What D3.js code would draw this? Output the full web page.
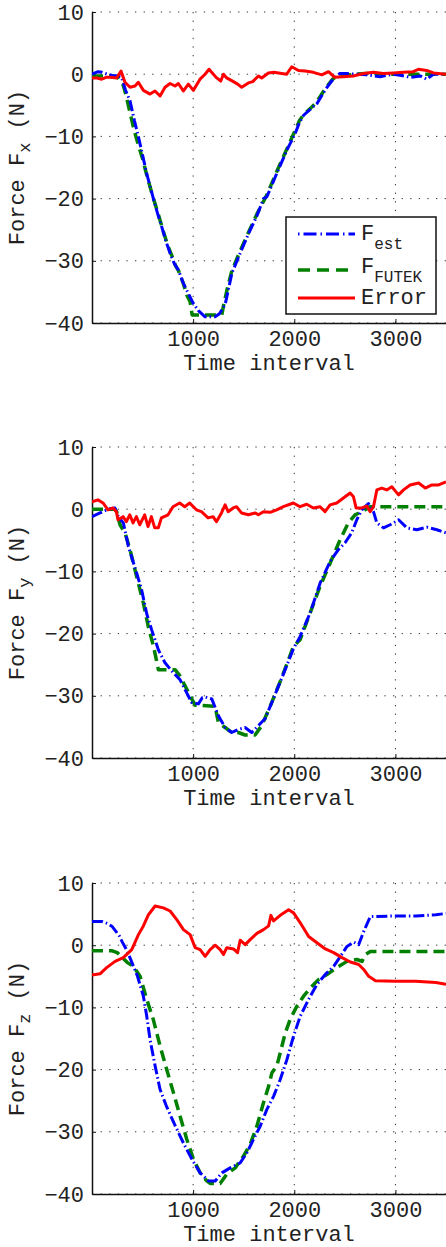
<!DOCTYPE html>
<html><head><meta charset="utf-8">
<script src="https://cdn.jsdelivr.net/npm/d3@7"></script>
<style>
html,body{margin:0;padding:0;background:#fff;}
svg{display:block;}
text{font-family:"Liberation Mono","Courier New",monospace;fill:#222;}
</style></head>
<body>
<svg id="c" width="446" height="1247"></svg>
<script>
// ---------- data ----------
const xTicks = [1000, 2000, 3000];
const yTicks = [10, 0, -10, -20, -30, -40];
const xDomain = [0, 3500];
const yDomain = [-40, 10];
const panelLabels = ["x", "y", "z"];
const legendLabels = [["F", "est"], ["F", "FUTEK"], ["Error", ""]];

// Panel 1 : Fx  ([time, force])
const fxEst = [[0,0],[60,0.4],[100,0.3],[150,0],[200,-0.2],[260,-0.3],[294,-0.5],[330,-2.5],[376,-4.3],[420,-7.5],[458,-10],[500,-13],[541,-16],[607,-20],[650,-22.5],[689,-24.5],[730,-26.8],[772,-28.8],[815,-30.5],[855,-31.5],[900,-33.5],[954,-35.3],[1000,-36.8],[1052,-38],[1118,-39],[1217,-39],[1260,-38.5],[1317,-37],[1350,-34.5],[1383,-32],[1449,-29.4],[1548,-25.6],[1630,-22.8],[1696,-20],[1729,-19.7],[1828,-15.9],[1927,-12.2],[2010,-9.5],[2050,-7.8],[2092,-6.6],[2160,-5.6],[2225,-4.7],[2307,-2.5],[2360,-1.3],[2406,-0.4],[2450,0.1],[2518,0.1],[2600,0],[2716,-0.1],[2848,-0.4],[2980,0],[3060,-0.2],[3145,-0.5],[3250,-0.3],[3310,-0.8],[3376,0],[3500,0]];
const fxFutek = [[0,-0.3],[100,-0.3],[200,-0.3],[250,-0.4],[305,-1.6],[320,-2.4],[345,-4],[380,-6.5],[420,-9.2],[460,-11.5],[500,-13.6],[541,-16.2],[600,-19.6],[650,-22.2],[700,-25],[750,-27.6],[800,-29.6],[827,-30.8],[855,-31.6],[900,-33.5],[937,-35.5],[970,-36.6],[990,-38.7],[1150,-38.7],[1284,-38.7],[1300,-37.2],[1340,-34.3],[1383,-31.6],[1449,-29],[1548,-25.4],[1630,-22.5],[1729,-19.4],[1828,-15.6],[1927,-12],[2010,-9],[2050,-7.5],[2092,-6.5],[2160,-5.5],[2225,-4.4],[2307,-2.3],[2380,-0.8],[2420,-0.3],[2500,-0.2],[2600,0],[2700,0.1],[2800,0.1],[2900,0],[3000,0],[3100,0],[3200,0],[3350,0],[3500,0]];
const fxError = [[0,-0.6],[50,-0.6],[96,-0.8],[140,-0.5],[178,-0.5],[244,-0.6],[287,0.5],[326,-1.3],[376,-2.1],[425,-1.9],[458,-1.3],[508,-2.6],[574,-3.2],[623,-2.7],[673,-3.5],[722,-2.1],[772,-1.5],[821,-1.9],[854,-1.5],[903,-2.7],[953,-1.6],[1002,-2.6],[1068,-0.8],[1118,0],[1157,0.8],[1200,0],[1233,-0.6],[1273,-1.1],[1300,0],[1332,-0.6],[1398,-1.2],[1440,-1.6],[1480,-2.1],[1546,-1.4],[1590,-1.2],[1645,-0.3],[1678,-0.6],[1744,0.2],[1800,0.3],[1843,0.2],[1925,0],[1975,1.2],[2041,0.6],[2107,0.5],[2189,0.3],[2272,-0.1],[2338,0.4],[2400,-0.5],[2485,-0.4],[2584,-0.3],[2683,0.1],[2782,0.3],[2881,0.1],[2980,0.2],[3079,0.3],[3178,0.4],[3227,0.8],[3310,0.6],[3376,0.2],[3500,0]];

// Panel 2 : Fy
const fyEst = [[0,-1.2],[79,-0.6],[161,0],[227,0.2],[260,-1.2],[310,-2.2],[360,-6],[442,-10.3],[491,-13],[541,-16.8],[590,-19.4],[656,-22.6],[722,-24.7],[804,-26.3],[870,-27.4],[920,-29],[986,-31.1],[1052,-31.3],[1090,-30.3],[1118,-30.2],[1184,-30.5],[1250,-33.2],[1316,-35.1],[1381,-35.9],[1447,-35.4],[1513,-35.1],[1579,-35.9],[1645,-34.8],[1711,-33.7],[1780,-31],[1880,-27],[1990,-22.5],[2057,-20.5],[2156,-16.7],[2255,-11.9],[2354,-8.4],[2436,-6.5],[2502,-5.4],[2568,-3.8],[2618,-1.7],[2667,-0.1],[2733,0.9],[2783,-0.4],[2816,-2.2],[2882,-3.0],[2948,-2.5],[3031,-1.7],[3113,-3],[3212,-3.3],[3311,-2.9],[3410,-3.3],[3500,-3.8]];
const fyFutek = [[0,0],[100,0],[227,0],[244,-0.4],[277,-2.5],[326,-3.8],[376,-6.5],[409,-8.7],[458,-11.9],[508,-15.1],[557,-18.9],[607,-22],[640,-24.5],[656,-25.8],[821,-25.8],[870,-26.8],[920,-28.4],[986,-30.5],[1019,-31.5],[1217,-31.7],[1250,-34.3],[1316,-35.1],[1381,-35.9],[1447,-35.9],[1513,-36.3],[1612,-36.3],[1678,-34.8],[1779,-31],[1878,-27],[1993,-22],[2057,-21],[2156,-16.7],[2255,-12.4],[2354,-8.7],[2453,-4.9],[2535,-2.2],[2601,-0.9],[2667,-0.4],[2750,0.4],[3000,0.4],[3250,0.4],[3500,0.4]];
const fyError = [[0,1.2],[59,1.5],[109,1.0],[158,-0.1],[208,0.2],[241,-0.4],[257,-1.7],[307,-1.2],[340,-2],[373,-0.9],[406,-2.2],[439,-1.2],[472,-2.5],[521,-0.9],[554,-2.8],[587,-1.2],[620,-3],[656,-3],[686,-1.4],[752,-0.9],[801,0.4],[867,1.0],[917,0.4],[966,1.0],[1032,-0.1],[1082,-0.4],[1148,-1.4],[1197,-1.2],[1230,-2],[1280,-0.6],[1316,0.7],[1346,-0.4],[1396,0.2],[1429,0.4],[1478,-0.6],[1546,-0.9],[1612,-0.6],[1645,-0.9],[1695,-0.4],[1761,-0.5],[1826,-0.1],[1892,0.4],[1991,1.0],[2057,0.4],[2123,0.8],[2189,0.2],[2255,0.4],[2304,-0.4],[2354,0.7],[2420,1.0],[2486,1.8],[2552,2.6],[2585,2.0],[2611,0.2],[2667,0.2],[2717,0.5],[2750,-0.4],[2783,0.4],[2816,3.1],[2865,3.4],[2915,3.1],[2964,3.6],[3031,2.3],[3080,3.1],[3146,3.9],[3229,4.2],[3295,3.4],[3361,3.9],[3427,3.9],[3500,4.4]];

// Panel 3 : Fz
const fzEst = [[0,3.8],[100,3.8],[150,3.5],[200,3],[270,1.5],[300,0.5],[350,-1],[400,-3],[450,-5],[508,-8.2],[541,-11.4],[574,-15.2],[624,-19.4],[673,-23.2],[739,-26],[822,-29],[904,-31.8],[987,-34.4],[1069,-36.6],[1152,-37.9],[1218,-37.9],[1284,-36.6],[1366,-35.8],[1465,-35],[1531,-33.4],[1597,-31.2],[1663,-29.1],[1729,-26.4],[1795,-24.3],[1861,-21.6],[1927,-18.4],[1993,-14.6],[2059,-11.4],[2142,-8.7],[2224,-6.3],[2307,-4.7],[2389,-3.4],[2455,-1.8],[2521,-0.2],[2587,0.5],[2637,0.1],[2686,2.2],[2752,4.6],[3000,4.7],[3200,4.7],[3400,4.9],[3500,5.1]];
const fzFutek = [[0,-0.9],[100,-0.9],[200,-0.9],[250,-1.2],[300,-2],[350,-2.8],[409,-3.4],[475,-5],[541,-8.7],[607,-12],[673,-16.2],[739,-20],[805,-23.7],[871,-27.5],[937,-31.2],[1003,-34.4],[1069,-36.6],[1135,-37.9],[1168,-38.3],[1267,-38.3],[1333,-36.8],[1416,-35.8],[1498,-33.9],[1564,-32],[1630,-29.1],[1696,-25.3],[1746,-22.7],[1779,-20.5],[1828,-19.4],[1861,-17.3],[1911,-14.1],[1960,-11.9],[2026,-9.8],[2092,-8.2],[2158,-6.9],[2241,-5.5],[2323,-4.7],[2422,-3.6],[2521,-2.6],[2620,-2.3],[2670,-2.6],[2703,-1.5],[2752,-1.0],[3000,-1.0],[3250,-1.0],[3500,-1.0]];
const fzError = [[0,-4.8],[79,-4.6],[145,-3.6],[228,-2.6],[310,-2],[393,-0.7],[459,1.7],[508,3.1],[558,4.9],[624,6.3],[706,6],[772,5.5],[838,4.1],[904,2.5],[970,1.7],[1020,-0.4],[1069,-0.7],[1119,-1.8],[1168,-0.7],[1218,0],[1267,-0.7],[1300,-1.5],[1333,-0.4],[1399,-0.6],[1439,-1.2],[1465,0.8],[1515,0.1],[1564,0.9],[1630,1.9],[1696,2.5],[1746,3.1],[1769,4.8],[1795,3.9],[1861,4.8],[1944,5.7],[1993,5.2],[2059,3.6],[2142,1.4],[2224,0.4],[2307,-0.6],[2389,-1.2],[2472,-2],[2554,-2.7],[2637,-3.1],[2686,-3.9],[2736,-5],[2802,-5.7],[3000,-5.8],[3200,-5.8],[3400,-6],[3500,-6.3]];

const panels = [
  {sub: panelLabels[0], est: fxEst, futek: fxFutek, err: fxError, legend: true},
  {sub: panelLabels[1], est: fyEst, futek: fyFutek, err: fyError, legend: false},
  {sub: panelLabels[2], est: fzEst, futek: fzFutek, err: fzError, legend: false}
];

// ---------- layout ----------
const tops = [12, 447, 883];
const plotH = 311;
const left = 92, right = 446;
const FS = 22;
const FONT = '"Liberation Mono", "Courier New", monospace';
const colors = {est: "#0000ff", futek: "#008000", err: "#ff0000"};
const styles = {
  est: {w: 3, dash: "11,3,1.5,3"},
  futek: {w: 3.5, dash: "11,6"},
  err: {w: 3, dash: null}
};

const svg = d3.select("#c");
const x = d3.scaleLinear().domain(xDomain).range([left, right]);

panels.forEach((p, i) => {
  const top = tops[i];
  const y = d3.scaleLinear().domain(yDomain).range([top + plotH, top]);
  const g = svg.append("g");

  const clipId = "clip" + i;
  svg.append("clipPath").attr("id", clipId).append("rect")
    .attr("x", left).attr("y", top - 3).attr("width", right - left).attr("height", plotH + 6);

  // grid
  g.selectAll(".hg").data(yTicks).enter().append("line")
    .attr("x1", left).attr("x2", right)
    .attr("y1", d => y(d)).attr("y2", d => y(d))
    .attr("stroke", "#333").attr("stroke-width", 1).attr("stroke-dasharray", "1.3,7.3");
  g.selectAll(".vg").data(xTicks).enter().append("line")
    .attr("y1", top).attr("y2", top + plotH)
    .attr("x1", d => x(d)).attr("x2", d => x(d))
    .attr("stroke", "#333").attr("stroke-width", 1).attr("stroke-dasharray", "1.3,7.3");

  // axes
  const yAxis = d3.axisLeft(y).tickValues(yTicks).tickSizeInner(-4).tickSizeOuter(0)
    .tickFormat(d => d < 0 ? "\u2212" + Math.abs(d) : String(d)).tickPadding(8);
  const ya = g.append("g").attr("transform", `translate(${left},0)`).call(yAxis)
    .attr("font-family", FONT);
  ya.select(".domain").attr("stroke", "#111").attr("stroke-width", 1.5);
  ya.selectAll(".tick line").attr("stroke", "#111");
  ya.selectAll("text").attr("font-size", FS).attr("fill", "#222");

  const xAxis = d3.axisBottom(x).tickValues(xTicks).tickSizeInner(-4).tickSizeOuter(0)
    .tickFormat(d => String(d)).tickPadding(7);
  const xa = g.append("g").attr("transform", `translate(0,${top + plotH})`).call(xAxis)
    .attr("font-family", FONT);
  xa.select(".domain").attr("stroke", "#111").attr("stroke-width", 1.5);
  xa.selectAll(".tick line").attr("stroke", "#111");
  xa.selectAll("text").attr("font-size", FS).attr("fill", "#222");

  // x label
  g.append("text").attr("x", (left + right) / 2).attr("y", top + plotH + 47)
    .attr("text-anchor", "middle").attr("font-size", FS).text("Time interval");

  // y label
  const yl = g.append("text")
    .attr("transform", `translate(24,${top + plotH / 2}) rotate(-90)`)
    .attr("text-anchor", "middle").attr("font-size", FS);
  yl.append("tspan").text("Force F");
  yl.append("tspan").attr("font-size", 17).attr("dy", 6).text(p.sub);
  yl.append("tspan").attr("dy", -6).text("  (N)");

  // lines
  const line = d3.line().x(d => x(d[0])).y(d => y(d[1]));
  const lg = g.append("g").attr("clip-path", `url(#${clipId})`);
  ["futek", "est", "err"].forEach(k => {
    const s = styles[k];
    const path = lg.append("path").datum(p[k]).attr("d", line)
      .attr("fill", "none").attr("stroke", colors[k]).attr("stroke-width", s.w)
      .attr("stroke-linejoin", "round");
    if (s.dash) path.attr("stroke-dasharray", s.dash);
  });

  // legend
  if (p.legend) {
    const lgd = g.append("g");
    lgd.append("rect").attr("x", 286).attr("y", 217).attr("width", 150).attr("height", 97)
      .attr("fill", "#fff").attr("stroke", "#111").attr("stroke-width", 1.5);
    const keys = ["est", "futek", "err"];
    const rowsY = [234, 270, 298];
    const baseY = [240, 273, 304];
    keys.forEach((k, j) => {
      const s = styles[k];
      const ln = lgd.append("line").attr("x1", 298).attr("x2", 355)
        .attr("y1", rowsY[j]).attr("y2", rowsY[j])
        .attr("stroke", colors[k]).attr("stroke-width", s.w);
      if (s.dash) ln.attr("stroke-dasharray", k === "est" ? "1.5,4,13,4" : "12,7");
      const t = lgd.append("text").attr("x", 361).attr("y", baseY[j]).attr("font-size", FS);
      t.append("tspan").text(legendLabels[j][0]);
      if (legendLabels[j][1]) t.append("tspan").attr("font-size", 16).attr("dy", 9).text(legendLabels[j][1]);
    });
  }
});
</script>
</body></html>
